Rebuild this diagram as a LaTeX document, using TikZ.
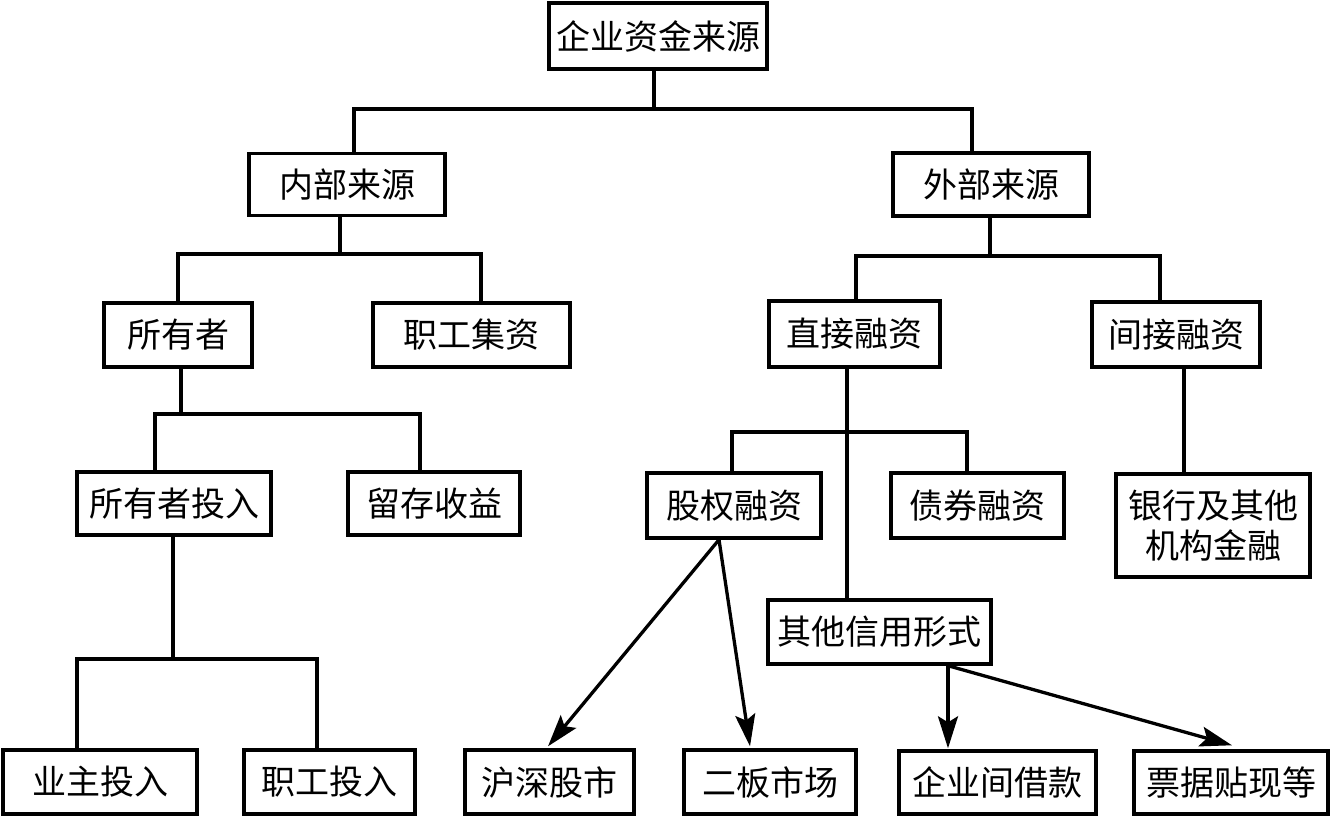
\documentclass[tikz,border=0pt]{standalone}
\usepackage{fontspec}
\newfontfamily\cjk{Noto Sans CJK SC}
\usetikzlibrary{arrows.meta}
\begin{document}
\begin{tikzpicture}[x=1pt,y=-1pt,
  box/.style={draw,line width=3.4pt,inner sep=0pt,font=\cjk\fontsize{34}{40}\selectfont,align=center},
  conn/.style={line width=3.3pt},
  arr/.style={line width=3.3pt,-{Stealth[length=32pt,width=20pt,inset=6pt]}}]
\useasboundingbox[fill=white] (0,0) rectangle (1330,816);
% level 0
\node[box,minimum width=218pt,minimum height=66pt] (root) at (658,36) {企业资金来源};
% level 1
\node[box,minimum width=196pt,minimum height=62pt] (nei) at (347,184.5) {内部来源};
\node[box,minimum width=196pt,minimum height=63pt] (wai) at (991,184.5) {外部来源};
% level 2
\node[box,minimum width=148pt,minimum height=64pt] (suoyou) at (178,335) {所有者};
\node[box,minimum width=197pt,minimum height=64pt] (zhigong) at (471.5,335) {职工集资};
\node[box,minimum width=171pt,minimum height=66pt] (zhijie) at (854.5,334) {直接融资};
\node[box,minimum width=168pt,minimum height=65pt] (jianjie) at (1176,334.5) {间接融资};
% level 3
\node[box,minimum width=194pt,minimum height=63pt] (touru) at (174,503.5) {所有者投入};
\node[box,minimum width=172pt,minimum height=63pt] (liucun) at (434,503.5) {留存收益};
\node[box,minimum width=174pt,minimum height=65pt] (guquan) at (734,505.5) {股权融资};
\node[box,minimum width=173pt,minimum height=65pt] (zhaiquan) at (977.5,505.5) {债券融资};
\node[box,minimum width=194pt,minimum height=103pt] (yinhang) at (1213,525.5) {银行及其他\\机构金融};
\node[box,minimum width=223pt,minimum height=64pt] (qita) at (879.5,632) {其他信用形式};
% level 4
\node[box,minimum width=194pt,minimum height=64pt] (yezhu) at (100,782) {业主投入};
\node[box,minimum width=171pt,minimum height=64pt] (zhigongtr) at (329.5,782) {职工投入};
\node[box,minimum width=169pt,minimum height=64pt] (hushen) at (549.5,782) {沪深股市};
\node[box,minimum width=172pt,minimum height=64pt] (erban) at (770,782) {二板市场};
\node[box,minimum width=197pt,minimum height=63pt] (qiye) at (997.5,782.5) {企业间借款};
\node[box,minimum width=194pt,minimum height=63pt] (piaoju) at (1231,782.5) {票据贴现等};
% connectors
\coordinate (b1m) at (654,109); \coordinate (b1l) at (354,109); \coordinate (b1r) at (972,109);
\draw[conn] (root.south -| b1m) -- (b1m);
\draw[conn] (nei.north -| b1l) -- (b1l) -- (b1r) -- (wai.north -| b1r);
\coordinate (b2m) at (340,254); \coordinate (b2l) at (178,254); \coordinate (b2r) at (481,254);
\draw[conn] (nei.south -| b2m) -- (b2m);
\draw[conn] (suoyou.north -| b2l) -- (b2l) -- (b2r) -- (zhigong.north -| b2r);
\coordinate (b3m) at (990,256); \coordinate (b3l) at (856,256); \coordinate (b3r) at (1160,256);
\draw[conn] (wai.south -| b3m) -- (b3m);
\draw[conn] (zhijie.north -| b3l) -- (b3l) -- (b3r) -- (jianjie.north -| b3r);
\coordinate (b4m) at (181,414); \coordinate (b4l) at (155,414); \coordinate (b4r) at (420,414);
\draw[conn] (suoyou.south -| b4m) -- (b4m);
\draw[conn] (touru.north -| b4l) -- (b4l) -- (b4r) -- (liucun.north -| b4r);
\coordinate (v5) at (847,432); \coordinate (b5l) at (732,432); \coordinate (b5r) at (967,432);
\draw[conn] (zhijie.south -| v5) -- (qita.north -| v5);
\draw[conn] (guquan.north -| b5l) -- (b5l) -- (b5r) -- (zhaiquan.north -| b5r);
\coordinate (v6) at (1184,420);
\draw[conn] (jianjie.south -| v6) -- (yinhang.north -| v6);
\coordinate (b7m) at (173,659); \coordinate (b7l) at (77,659); \coordinate (b7r) at (317,659);
\draw[conn] (touru.south -| b7m) -- (b7m);
\draw[conn] (yezhu.north -| b7l) -- (b7l) -- (b7r) -- (zhigongtr.north -| b7r);
% arrows
\draw[arr] ([xshift=-15pt]guquan.south) -- ([xshift=-1.5pt,yshift=2pt]hushen.north);
\draw[arr] ([xshift=-15pt]guquan.south) -- ([xshift=-20pt,yshift=2pt]erban.north);
\draw[arr] ([xshift=68.5pt]qita.south) -- ([xshift=-49.5pt,yshift=1pt]qiye.north);
\draw[arr] ([xshift=68.5pt]qita.south) -- ([xshift=1pt,yshift=4pt]piaoju.north);
\end{tikzpicture}
\end{document}
